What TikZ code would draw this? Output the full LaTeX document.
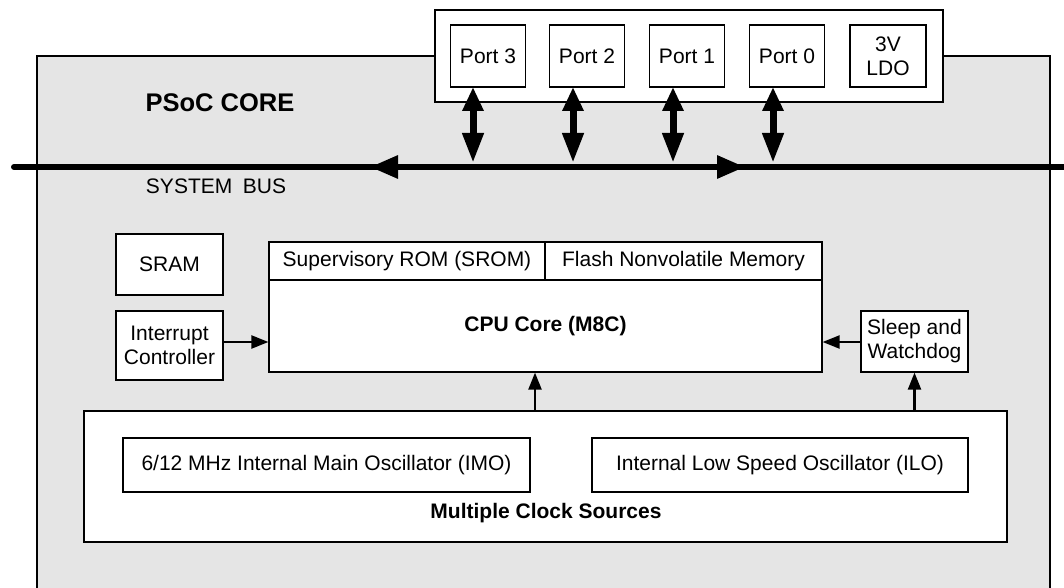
\documentclass[tikz,border=0pt]{standalone}
\usepackage{fontspec}
\setmainfont{Liberation Sans}
\usetikzlibrary{arrows.meta}
\definecolor{coregray}{RGB}{229,229,229}
\begin{document}
\begin{tikzpicture}[x=1pt,y=-1pt,
  txt/.style={font=\fontsize{21}{24}\selectfont},
  box/.style={draw, fill=white, line width=1.2pt, inner sep=0pt, align=center, txt},
  lbl/.style={inner sep=0pt, align=center, txt},
  arr/.style={line width=2.2pt, -{Triangle[length=17pt,width=13pt]}},
  dbl/.style={line width=7pt, {Triangle[length=24pt,width=20pt]}-{Triangle[length=30pt,width=20pt]}},
  busarr/.style={line width=6pt, -{Triangle[length=28pt,width=22pt]}},
]
\useasboundingbox (0,0) rectangle (1064,588);

% core area
\node[draw, fill=coregray, line width=2pt, minimum width=1013pt, minimum height=570pt, anchor=north west, inner sep=0pt] (core) at (36,55) {};
\node[lbl, font=\fontsize{25.5}{28}\selectfont\bfseries] (title) at (220,103) {PSoC CORE};

% ports
\node[box, minimum width=508pt, minimum height=92pt] (portbox) at (689,56) {};
\node[box, minimum width=75pt, minimum height=62pt] (p3) at (488,56) {Port 3};
\node[box, minimum width=75pt, minimum height=62pt] (p2) at (587,56) {Port 2};
\node[box, minimum width=75pt, minimum height=62pt] (p1) at (687,56) {Port 1};
\node[box, minimum width=75pt, minimum height=62pt] (p0) at (787,56) {Port 0};
\node[box, minimum width=76pt, minimum height=62pt] (ldo) at (888,56) {3V\\LDO};

% system bus
\coordinate (busL) at (14,167);
\coordinate (busR) at (1075,167);
\draw[line width=6pt, line cap=round] (busL) -- (busR);
\coordinate (bl1) at (420,167);
\coordinate (bl2) at (370,167);
\coordinate (br1) at (690,167);
\coordinate (br2) at (745,167);
\draw[busarr] (bl1) -- (bl2);
\draw[busarr] (br1) -- (br2);
\node[lbl] (buslbl) at (216,186) {SYSTEM\hspace{0.5em}BUS};

% port <-> bus arrows
\coordinate (a3) at (473,87);
\coordinate (a2) at (573,87);
\coordinate (a1) at (673,87);
\coordinate (a0) at (773,87);
\coordinate (busY) at (0,163);
\draw[dbl] (a3) -- (a3 |- busY);
\draw[dbl] (a2) -- (a2 |- busY);
\draw[dbl] (a1) -- (a1 |- busY);
\draw[dbl] (a0) -- (a0 |- busY);

% left blocks
\node[box, minimum width=107pt, minimum height=61pt] (sram) at (169.5,264.5) {SRAM};
\node[box, minimum width=107pt, minimum height=69pt] (intc) at (169.5,345.5) {Interrupt\\Controller};

% CPU
\node[box, minimum width=276pt, minimum height=38pt] (srom) at (407,261) {Supervisory ROM (SROM)};
\node[box, minimum width=277pt, minimum height=38pt] (flash) at (683.5,261) {Flash Nonvolatile Memory};
\node[box, minimum width=553pt, minimum height=92pt, font=\fontsize{21}{24}\selectfont\bfseries] (cpu) at (545.5,326) {CPU Core (M8C)};

% sleep
\node[box, minimum width=107pt, minimum height=61pt] (sleep) at (914.5,341.5) {Sleep and\\Watchdog};

% clocks
\node[box, minimum width=923pt, minimum height=131pt] (clk) at (545.5,476.5) {};
\node[box, minimum width=407pt, minimum height=54pt] (imo) at (326.5,465) {6/12 MHz Internal Main Oscillator (IMO)};
\node[box, minimum width=376pt, minimum height=54pt] (ilo) at (780,465) {Internal Low Speed Oscillator (ILO)};
\node[lbl, font=\fontsize{21}{24}\selectfont\bfseries] (clklbl) at (546,513) {Multiple Clock Sources};

% connectors
\coordinate (yarr) at (0,342);
\coordinate (xcpu) at (535,0);
\draw[arr] (intc.east |- yarr) -- (cpu.west |- yarr);
\draw[arr] (sleep.west |- yarr) -- (cpu.east |- yarr);
\draw[arr] (clk.north -| xcpu) -- (cpu.south -| xcpu);
\draw[arr] (clk.north -| sleep.south) -- (sleep.south);
\end{tikzpicture}
\end{document}
